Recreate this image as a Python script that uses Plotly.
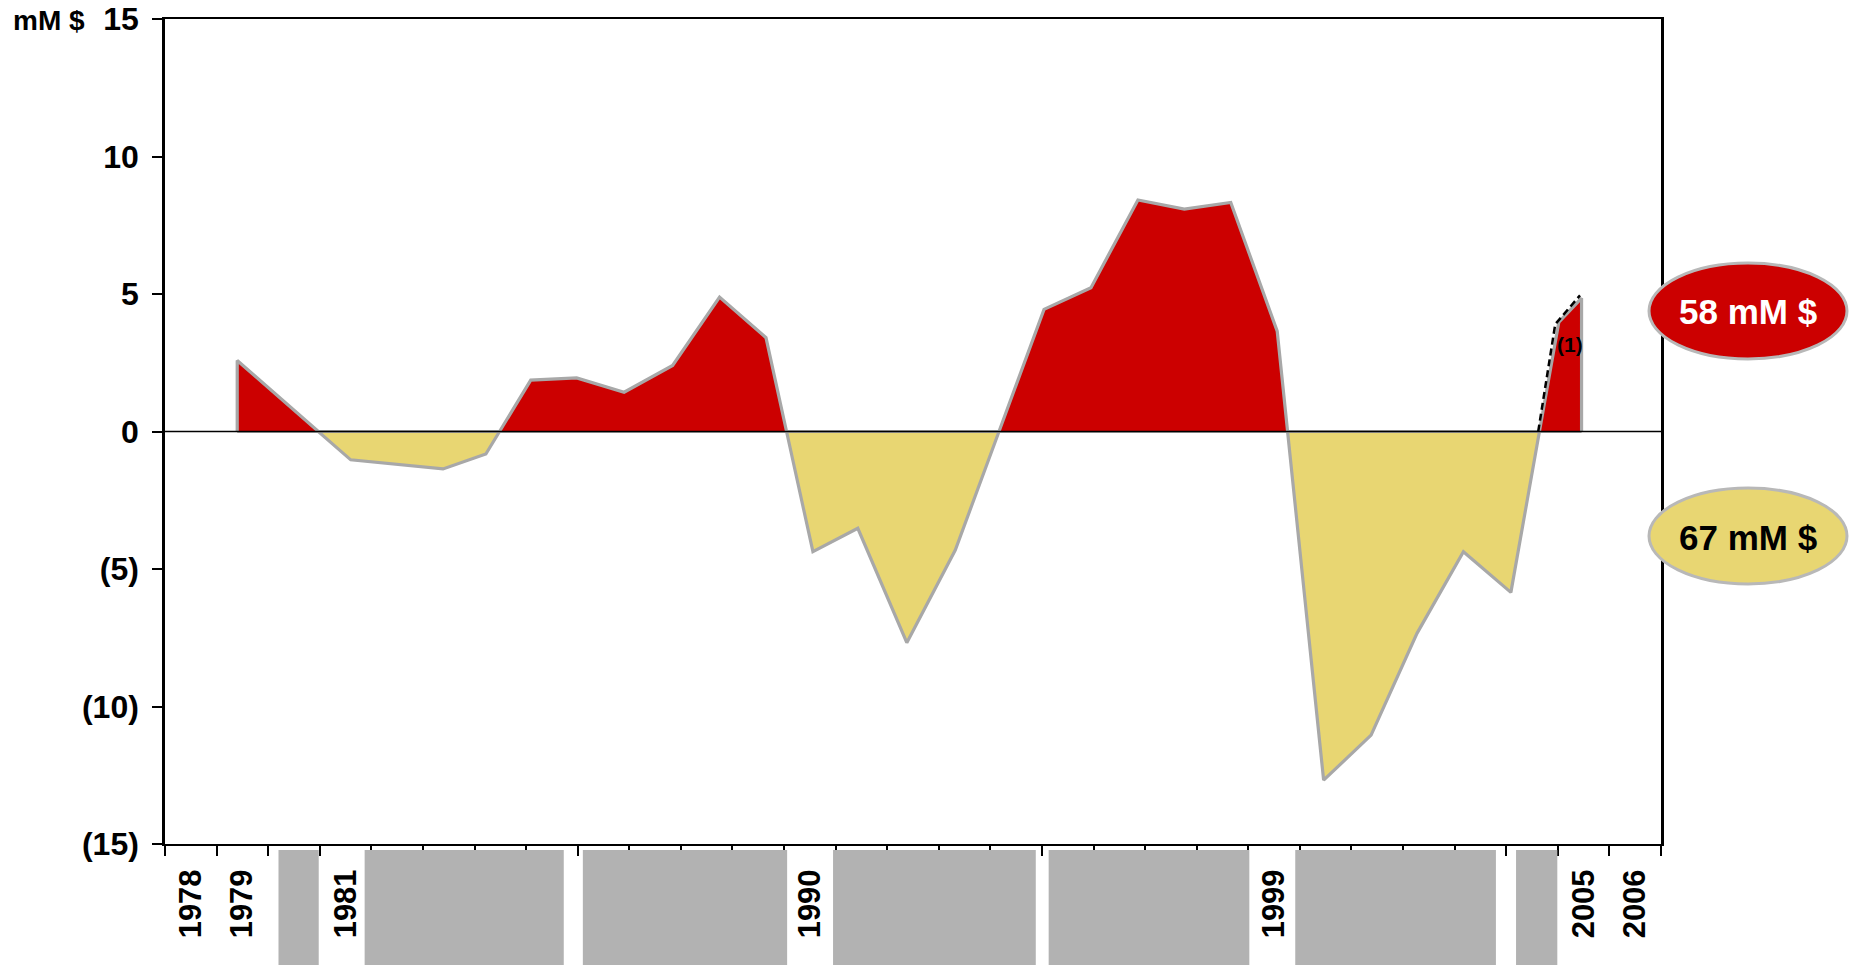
import plotly.graph_objects as go

# ---------------- data ----------------
years = list(range(1978, 2007))
labelled_years = [1978, 1979, 1981, 1990, 1999, 2005, 2006]
y_tick_values = [-15, -10, -5, 0, 5, 10, 15]
y_tick_labels = ["(15)", "(10)", "(5)", "0", "5", "10", "15"]

# balance series: position on the year axis and value (mM $)
balance_period = [1978.90, 1981.10, 1982.89, 1983.72, 1984.59, 1985.48, 1986.40,
                  1987.34, 1988.25, 1989.15, 1990.06, 1990.93, 1991.88, 1992.82,
                  1994.54, 1995.45, 1996.36, 1997.26, 1998.16, 1999.06, 1999.96,
                  2000.88, 2001.77, 2002.67, 2003.59, 2004.52, 2004.96]
balance_value = [2.58, -1.03, -1.36, -0.82, 1.87, 1.95, 1.43,
                 2.40, 4.89, 3.41, -4.37, -3.52, -7.68, -4.31,
                 4.44, 5.23, 8.42, 8.09, 8.33, 3.65, -12.68,
                 -11.04, -7.34, -4.37, -5.85, 3.98, 4.85]

# dashed estimate (note (1))
estimate_period = [2004.12, 2004.45, 2004.93]
estimate_value = [0.0, 3.90, 4.95]

surplus_total = "58 mM $"
deficit_total = "67 mM $"
unit_label = "mM $"
note_label = "(1)"

# gray label-cover bands (in year units)
cover_bands = [(1979.70, 1980.48), (1981.37, 1985.23), (1985.60, 1989.56),
               (1990.45, 1994.38), (1994.63, 1998.52), (1999.41, 2003.30),
               (2003.69, 2004.49)]

# ---------------- styles / geometry ----------------
W, H = 1850, 965
ML, MR, MT, MB = 165, 189, 19, 121
PW, PH = W - ML - MR, H - MT - MB
FONT = "Liberation Sans, Arial, Helvetica, sans-serif"
RED = "#cc0000"
YELLOW = "#e8d672"
OUTLINE = "#a8a8a8"
COVER = "#b2b2b2"


def px(x):
    return (x - ML) / PW


def py(y):
    return (H - MB - y) / PH


def split(xs, ys, positive):
    """Clip the series to one sign, inserting the zero crossings."""
    ox, oy = [xs[0]], [0.0]
    for i in range(len(xs)):
        if i > 0:
            a, b = ys[i - 1], ys[i]
            if a * b < 0:
                ox.append(xs[i - 1] + (xs[i] - xs[i - 1]) * a / (a - b))
                oy.append(0.0)
        oy.append(max(ys[i], 0.0) if positive else min(ys[i], 0.0))
        ox.append(xs[i])
    ox.append(xs[-1])
    oy.append(0.0)
    return ox, oy


fig = go.Figure()

nx, ny = split(balance_period, balance_value, False)
fig.add_trace(go.Scatter(x=nx, y=ny, mode="lines", fill="tozeroy",
                         fillcolor=YELLOW, line=dict(color=OUTLINE, width=3.2),
                         hoverinfo="skip"))
pxs, pys = split(balance_period, balance_value, True)
fig.add_trace(go.Scatter(x=pxs, y=pys, mode="lines", fill="tozeroy",
                         fillcolor=RED, line=dict(color=OUTLINE, width=3.2),
                         hoverinfo="skip"))
fig.add_trace(go.Scatter(x=estimate_period, y=estimate_value, mode="lines",
                         line=dict(color="black", width=2.5, dash="7px,4px"),
                         hoverinfo="skip"))

shapes = [
    # zero line
    dict(type="line", xref="paper", yref="y", x0=0, x1=1, y0=0, y1=0,
         line=dict(color="black", width=1.5), layer="above"),
    # total ellipses
    dict(type="circle", xref="paper", yref="paper",
         x0=px(1649), x1=px(1847), y0=py(359), y1=py(263),
         fillcolor=RED, line=dict(color="#b8b8b8", width=3), layer="above"),
    dict(type="circle", xref="paper", yref="paper",
         x0=px(1649), x1=px(1847), y0=py(584), y1=py(488),
         fillcolor=YELLOW, line=dict(color="#b8b8b8", width=3), layer="above"),
]
for a, b in cover_bands:
    shapes.append(dict(type="rect", xref="x", yref="paper", x0=a, x1=b,
                       y0=py(H + 5), y1=py(850), fillcolor=COVER,
                       line=dict(width=0), layer="above"))

annotations = [
    dict(text=unit_label, xref="paper", yref="paper", x=px(11), y=py(20),
         xanchor="left", yanchor="middle", showarrow=False,
         font=dict(family=FONT, size=28, color="black", weight="bold")),
    dict(text=surplus_total, xref="paper", yref="paper", x=px(1748), y=py(312),
         xanchor="center", yanchor="middle", showarrow=False,
         font=dict(family=FONT, size=35, color="white", weight="bold")),
    dict(text=deficit_total, xref="paper", yref="paper", x=px(1748), y=py(537),
         xanchor="center", yanchor="middle", showarrow=False,
         font=dict(family=FONT, size=35, color="black", weight="bold")),
    dict(text=note_label, xref="x", yref="y", x=2004.74, y=3.15,
         xanchor="center", yanchor="middle", showarrow=False,
         font=dict(family=FONT, size=21, color="black", weight="bold")),
]

fig.update_layout(
    width=W, height=H, autosize=False,
    margin=dict(l=ML, r=MR, t=MT, b=MB, pad=0, autoexpand=False),
    paper_bgcolor="white", plot_bgcolor="white",
    showlegend=False,
    shapes=shapes, annotations=annotations,
    xaxis=dict(
        range=[years[0] - 0.5, years[-1] + 0.5], automargin=False,
        tickmode="array", tickvals=years,
        ticktext=[str(y) if y in labelled_years else "" for y in years],
        tickangle=-90, ticks="", ticklabelstandoff=11,
        tickfont=dict(family=FONT, size=31, color="black", weight="bold"),
        showline=True, linecolor="black", linewidth=2, mirror=True,
        showgrid=False, zeroline=False, fixedrange=True,
        minor=dict(tickmode="array",
                   tickvals=[y - 0.5 for y in years] + [years[-1] + 0.5],
                   ticks="outside", ticklen=10, tickwidth=1.5,
                   tickcolor="black", showgrid=False),
    ),
    yaxis=dict(
        range=[-15, 15], automargin=False,
        tickmode="array", tickvals=y_tick_values,
        ticktext=y_tick_labels, ticks="outside", ticklen=10, tickwidth=1.5,
        tickcolor="black", ticklabelstandoff=7,
        tickfont=dict(family=FONT, size=32, color="black", weight="bold"),
        showline=True, linecolor="black", linewidth=2.5, mirror=True,
        showgrid=False, zeroline=False, fixedrange=True,
    ),
)

fig.write_html("out.html")
